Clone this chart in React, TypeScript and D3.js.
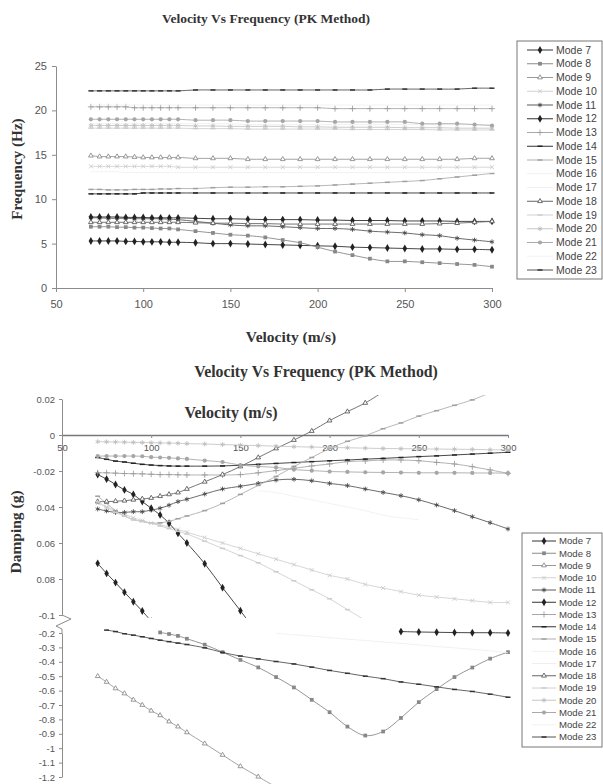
import React, { useRef, useEffect } from "react";
import * as d3 from "d3";

const n = null;

// velocity (m/s) at which each mode was solved
const velocity = [70, 75, 80, 85, 90, 95, 100, 105, 110, 115, 120, 130, 140, 150, 160, 170, 180, 190, 200, 210, 220, 230, 240, 250, 260, 270, 280, 290, 300];

const modeNames = ["Mode 7", "Mode 8", "Mode 9", "Mode 10", "Mode 11", "Mode 12", "Mode 13", "Mode 14", "Mode 15", "Mode 16", "Mode 17", "Mode 18", "Mode 19", "Mode 20", "Mode 21", "Mode 22", "Mode 23"];

const velocityTicks = [50, 100, 150, 200, 250, 300];
const freqTicks = [0, 5, 10, 15, 20, 25];
const dampUpperTicks = [0.02, 0, -0.02, -0.04, -0.06, -0.08, -0.1];
const dampUpperLabels = ["0.02", "0", "-0.02", "0.04", "0.06", "0.08", "-0.1"];
const dampLowerTicks = [-0.2, -0.3, -0.4, -0.5, -0.6, -0.7, -0.8, -0.9, -1, -1.1, -1.2];
const dampLowerLabels = ["-0.2", "-0.3", "-0.4", "-0.5", "-0.6", "-0.7", "-0.8", "-0.9", "-1", "-1.1", "-1.2"];

// frequency (Hz)
const freqMode7 = [5.3, 5.3, 5.3, 5.3, 5.25, 5.25, 5.2, 5.2, 5.2, 5.15, 5.15, 5.1, 5.0, 5.0, 4.95, 4.9, 4.85, 4.8, 4.75, 4.7, 4.6, 4.55, 4.5, 4.45, 4.4, 4.4, 4.35, 4.35, 4.3];
const freqMode8 = [6.9, 6.9, 6.9, 6.85, 6.85, 6.8, 6.8, 6.75, 6.7, 6.7, 6.6, 6.4, 6.2, 6.0, 5.9, 5.7, 5.4, 5.1, 4.6, 4.1, 3.7, 3.3, 3.0, 3.0, 2.9, 2.8, 2.7, 2.6, 2.4];
const freqMode9 = [14.9, 14.8, 14.8, 14.8, 14.8, 14.75, 14.7, 14.7, 14.7, 14.7, 14.7, 14.6, 14.6, 14.6, 14.5, 14.5, 14.5, 14.5, 14.5, 14.5, 14.5, 14.5, 14.5, 14.5, 14.5, 14.5, 14.5, 14.6, 14.6];
const freqMode10 = [13.7, 13.7, 13.7, 13.7, 13.7, 13.7, 13.7, 13.7, 13.7, 13.7, 13.6, 13.6, 13.6, 13.6, 13.6, 13.6, 13.6, 13.6, 13.6, 13.6, 13.6, 13.6, 13.6, 13.6, 13.6, 13.6, 13.6, 13.6, 13.6];
const freqMode11 = [7.9, 7.9, 7.85, 7.85, 7.85, 7.8, 7.8, 7.8, 7.8, 7.75, 7.7, 7.5, 7.3, 7.1, 7.0, 7.0, 6.9, 6.8, 6.7, 6.7, 6.6, 6.4, 6.3, 6.2, 6.0, 5.9, 5.6, 5.4, 5.2];
const freqMode12 = [8.0, 8.0, 8.0, 8.0, 7.95, 7.95, 7.95, 7.9, 7.9, 7.9, 7.9, 7.85, 7.8, 7.8, 7.75, 7.7, 7.7, 7.7, 7.65, 7.65, 7.6, 7.6, 7.6, 7.55, 7.55, 7.55, 7.5, 7.5, 7.5];
const freqMode13 = [20.4, 20.4, 20.4, 20.4, 20.4, 20.3, 20.3, 20.3, 20.3, 20.3, 20.3, 20.3, 20.3, 20.3, 20.3, 20.3, 20.3, 20.3, 20.3, 20.2, 20.2, 20.2, 20.2, 20.2, 20.2, 20.2, 20.2, 20.2, 20.2];
const freqMode14 = [10.6, 10.6, 10.6, 10.6, 10.6, 10.6, 10.7, 10.7, 10.7, 10.7, 10.7, 10.7, 10.7, 10.7, 10.7, 10.7, 10.7, 10.7, 10.7, 10.7, 10.7, 10.7, 10.7, 10.7, 10.7, 10.7, 10.7, 10.7, 10.7];
const freqMode15 = [11.1, 11.1, 11.05, 11.05, 11.05, 11.1, 11.1, 11.1, 11.15, 11.15, 11.2, 11.2, 11.3, 11.35, 11.35, 11.4, 11.4, 11.45, 11.5, 11.6, 11.7, 11.8, 11.9, 12.0, 12.1, 12.3, 12.5, 12.7, 12.9];
const freqMode16 = [13.1, 13.1, 13.1, 13.1, 13.0, 13.0, 13.0, 13.0, 13.0, 13.0, 13.0, 13.0, 13.0, 13.0, 13.0, 13.0, 13.0, 13.0, 13.0, 13.0, 13.0, 13.0, 13.0, 13.0, 13.0, 13.0, 13.0, 13.0, 13.0];
const freqMode17 = [18.5, 18.5, 18.5, 18.5, 18.5, 18.5, 18.5, 18.5, 18.5, 18.5, 18.5, 18.5, 18.5, 18.5, 18.4, 18.4, 18.4, 18.4, 18.4, 18.4, 18.4, 18.4, 18.4, 18.4, 18.4, 18.4, 18.4, 18.4, 18.4];
const freqMode18 = [7.4, 7.4, 7.4, 7.4, 7.4, 7.4, 7.4, 7.4, 7.4, 7.4, 7.4, 7.35, 7.3, 7.3, 7.25, 7.25, 7.2, 7.2, 7.2, 7.2, 7.2, 7.2, 7.2, 7.2, 7.2, 7.25, 7.3, 7.4, 7.5];
const freqMode19 = [18.0, 18.0, 18.0, 18.0, 18.0, 18.0, 18.0, 18.0, 18.0, 18.0, 18.0, 17.95, 17.95, 17.95, 17.9, 17.9, 17.9, 17.9, 17.9, 17.9, 17.85, 17.85, 17.85, 17.85, 17.85, 17.8, 17.8, 17.8, 17.8];
const freqMode20 = [18.3, 18.3, 18.3, 18.3, 18.3, 18.3, 18.3, 18.3, 18.3, 18.3, 18.3, 18.25, 18.25, 18.2, 18.2, 18.2, 18.2, 18.15, 18.15, 18.1, 18.1, 18.1, 18.1, 18.05, 18.05, 18.05, 18.0, 18.0, 18.0];
const freqMode21 = [19.0, 19.0, 19.0, 19.0, 19.0, 19.0, 19.0, 19.0, 19.0, 19.0, 19.0, 18.9, 18.9, 18.9, 18.8, 18.8, 18.8, 18.8, 18.8, 18.7, 18.7, 18.7, 18.7, 18.7, 18.5, 18.5, 18.5, 18.4, 18.3];
const freqMode22 = [20.6, 20.6, 20.6, 20.6, 20.6, 20.6, 20.6, 20.6, 20.6, 20.6, 20.6, 20.6, 20.6, 20.6, 20.6, 20.6, 20.6, 20.6, 20.6, 20.6, 20.6, 20.6, 20.6, 20.6, 20.6, 20.6, 20.6, 20.6, 20.6];
const freqMode23 = [22.2, 22.2, 22.2, 22.2, 22.2, 22.2, 22.2, 22.2, 22.2, 22.2, 22.2, 22.3, 22.3, 22.3, 22.3, 22.3, 22.3, 22.3, 22.3, 22.3, 22.3, 22.3, 22.4, 22.4, 22.4, 22.4, 22.4, 22.5, 22.5];

// damping (g), upper part of the broken axis (0.02 .. -0.1)
const dampUpMode7 = [-0.0713, -0.0769, -0.082, -0.0874, -0.0926, -0.0978, -0.1035, n, n, n, n, n, n, n, n, n, n, n, n, n, n, n, n, n, n, n, n, n, n];
const dampUpMode10 = [-0.038, -0.04, -0.042, -0.044, -0.046, -0.0475, -0.049, -0.05, -0.051, -0.0525, -0.054, -0.057, -0.06, -0.063, -0.066, -0.069, -0.072, -0.075, -0.078, -0.08, -0.083, -0.085, -0.087, -0.089, -0.09, -0.091, -0.092, -0.093, -0.093];
const dampUpMode11 = [-0.0411, -0.0422, -0.043, -0.043, -0.0426, -0.0426, -0.0417, -0.0407, -0.039, -0.037, -0.0357, -0.0328, -0.03, -0.0285, -0.0269, -0.025, -0.0246, -0.0254, -0.0269, -0.0281, -0.03, -0.0319, -0.0337, -0.036, -0.0389, -0.042, -0.0454, -0.0487, -0.0522];
const dampUpMode12 = [-0.022, -0.0245, -0.0275, -0.0305, -0.033, -0.037, -0.0407, -0.0444, -0.049, -0.0546, -0.06, -0.0715, -0.0848, -0.0976, -0.111, n, n, n, n, n, n, n, n, n, n, n, n, n, n];
const dampUpMode13 = [-0.021, -0.021, -0.0212, -0.0214, -0.0215, -0.0216, -0.0218, -0.022, -0.022, -0.0221, -0.0222, -0.0222, -0.0222, -0.022, -0.021, -0.0198, -0.0185, -0.0172, -0.0161, -0.0148, -0.0144, -0.0139, -0.0139, -0.0143, -0.0152, -0.0161, -0.0176, -0.0194, -0.0213];
const dampUpMode14 = [-0.0125, -0.0135, -0.0145, -0.015, -0.0157, -0.0163, -0.0167, -0.017, -0.0172, -0.0173, -0.0173, -0.0173, -0.0172, -0.0168, -0.0163, -0.0158, -0.0153, -0.0148, -0.0143, -0.0139, -0.0134, -0.013, -0.0125, -0.012, -0.0116, -0.0111, -0.0106, -0.0101, -0.0096];
const dampUpMode15 = [-0.034, -0.038, -0.042, -0.045, -0.047, -0.048, -0.049, -0.0488, -0.048, -0.0465, -0.045, -0.042, -0.038, -0.033, -0.028, -0.023, -0.0175, -0.0125, -0.0075, -0.0035, -0.0005, 0.0035, 0.0067, 0.0105, 0.0135, 0.0165, 0.0195, 0.0235, n];
const dampUpMode16 = [n, n, n, n, n, n, n, n, n, n, n, n, n, n, -0.031, -0.032, -0.034, -0.036, -0.038, -0.04, -0.042, -0.0445, -0.046, -0.047, n, n, n, n, n];
const dampUpMode18 = [-0.037, -0.037, -0.0368, -0.0365, -0.036, -0.0355, -0.035, -0.034, -0.033, -0.032, -0.03, -0.026, -0.022, -0.0175, -0.0125, -0.0075, -0.0028, 0.0022, 0.008, 0.013, 0.0178, 0.024, n, n, n, n, n, n, n];
const dampUpMode19 = [-0.037, -0.04, -0.043, -0.045, -0.047, -0.048, -0.049, -0.0505, -0.052, -0.0535, -0.055, -0.059, -0.063, -0.067, -0.071, -0.076, -0.081, -0.086, -0.091, -0.097, -0.103, n, n, n, n, n, n, n, n];
const dampUpMode20 = [-0.0037, -0.0038, -0.0039, -0.004, -0.0041, -0.0042, -0.0043, -0.0044, -0.0045, -0.0046, -0.0048, -0.005, -0.0053, -0.0056, -0.0059, -0.0062, -0.0065, -0.0067, -0.0069, -0.0071, -0.0073, -0.0075, -0.0076, -0.0077, -0.0078, -0.0079, -0.008, -0.0082, -0.0083];
const dampUpMode21 = [-0.0117, -0.0117, -0.0117, -0.0117, -0.0117, -0.0118, -0.0123, -0.0125, -0.0127, -0.013, -0.0133, -0.0142, -0.015, -0.0167, -0.0175, -0.018, -0.0192, -0.0198, -0.0203, -0.0205, -0.0207, -0.0208, -0.0209, -0.021, -0.021, -0.021, -0.0211, -0.0211, -0.0212];

// damping (g), lower part of the broken axis (-0.2 .. -1.2)
const dampLowMode8 = [n, n, n, n, n, n, n, -0.196, -0.207, -0.22, -0.24, -0.281, -0.333, -0.387, -0.439, -0.506, -0.578, -0.664, -0.75, -0.85, -0.912, -0.884, -0.79, -0.68, -0.59, -0.506, -0.44, -0.378, -0.333];
const dampLowMode9 = [-0.5, -0.54, -0.585, -0.62, -0.664, -0.7, -0.74, -0.772, -0.815, -0.85, -0.89, -0.968, -1.047, -1.126, -1.198, -1.27, n, n, n, n, n, n, n, n, n, n, n, n, n];
const dampLowMode12 = [n, n, n, n, n, n, n, n, n, n, n, n, n, n, n, n, n, n, n, n, n, n, -0.19, -0.193, -0.195, -0.197, -0.198, -0.198, -0.2];
const dampLowMode17 = [n, n, n, n, n, n, n, n, n, n, n, n, n, n, n, -0.202, -0.212, -0.221, -0.232, -0.243, -0.252, -0.263, -0.272, -0.283, -0.294, -0.303, -0.313, -0.324, -0.337];
const dampLowMode23 = [n, -0.18, -0.19, -0.205, -0.215, -0.226, -0.238, -0.25, -0.26, -0.27, -0.28, -0.303, -0.335, -0.36, -0.38, -0.398, -0.415, -0.437, -0.46, -0.48, -0.5, -0.517, -0.54, -0.556, -0.574, -0.592, -0.606, -0.625, -0.646];

const empty = velocity.map(() => n);

const freqSeries = [freqMode7, freqMode8, freqMode9, freqMode10, freqMode11, freqMode12, freqMode13, freqMode14, freqMode15, freqMode16, freqMode17, freqMode18, freqMode19, freqMode20, freqMode21, freqMode22, freqMode23];
const dampUpperSeries = [dampUpMode7, empty, empty, dampUpMode10, dampUpMode11, dampUpMode12, dampUpMode13, dampUpMode14, dampUpMode15, dampUpMode16, empty, dampUpMode18, dampUpMode19, dampUpMode20, dampUpMode21, empty, empty];
const dampLowerSeries = [empty, dampLowMode8, dampLowMode9, empty, empty, dampLowMode12, empty, empty, empty, empty, dampLowMode17, empty, empty, empty, empty, empty, dampLowMode23];

// look of each mode, same order as modeNames
const modeStyles = [
  { line: "#333", marker: "diamond", mc: "#222" },
  { line: "#8a8a8a", marker: "square", mc: "#888" },
  { line: "#9a9a9a", marker: "triangle", mc: "#888" },
  { line: "#d2d2d2", marker: "times", mc: "#c8c8c8" },
  { line: "#5a5a5a", marker: "asterisk", mc: "#444" },
  { line: "#333", marker: "diamond", mc: "#222" },
  { line: "#aaa", marker: "plus", mc: "#999" },
  { line: "#333", marker: "dash", mc: "#222" },
  { line: "#b0b0b0", marker: "dash", mc: "#a0a0a0" },
  { line: "#f0f0f0", marker: "none", mc: "#f0f0f0" },
  { line: "#efefef", marker: "none", mc: "#efefef" },
  { line: "#666", marker: "triangle", mc: "#555" },
  { line: "#d0d0d0", marker: "dash", mc: "#ccc" },
  { line: "#c6c6c6", marker: "asterisk", mc: "#bbb" },
  { line: "#aaa", marker: "circle", mc: "#a6a6a6" },
  { line: "#f2f2f2", marker: "none", mc: "#f2f2f2" },
  { line: "#555", marker: "dash", mc: "#333" },
];

const symbols: any = {
  diamond: [d3.symbolDiamond, 18],
  square: [d3.symbolSquare, 14],
  triangle: [d3.symbolTriangle2, 16],
  asterisk: [d3.symbolAsterisk, 16],
  plus: [d3.symbolPlus, 14],
  times: [d3.symbolTimes, 12],
  circle: [d3.symbolCircle, 14],
};

function addMarker(g, type, cx, cy, color) {
  if (type === "none") return;
  if (type === "dash") {
    g.append("line").attr("x1", cx - 2.5).attr("x2", cx + 2.5).attr("y1", cy).attr("y2", cy)
      .attr("stroke", color).attr("stroke-width", 1.5);
    return;
  }
  const [sym, size] = symbols[type];
  const filled = type === "diamond" || type === "square" || type === "circle";
  g.append("path")
    .attr("d", d3.symbol(sym, size)())
    .attr("transform", `translate(${cx},${cy})`)
    .attr("fill", filled ? color : type === "triangle" ? "#fff" : "none")
    .attr("stroke", filled ? "none" : color)
    .attr("stroke-width", 0.85);
}

function drawSeries(g, series, x, y) {
  series.forEach((vals, i) => {
    const st = modeStyles[i];
    const pts = velocity.map((v, j) => [v, vals[j]]);
    const line = d3.line<any>()
      .defined((d) => d[1] != null)
      .x((d) => x(d[0]))
      .y((d) => y(d[1]))
      .curve(d3.curveCatmullRom);
    g.append("path").attr("d", line(pts)).attr("fill", "none")
      .attr("stroke", st.line).attr("stroke-width", 0.9);
    pts.filter((d) => d[1] != null).forEach((d) => addMarker(g, st.marker, x(d[0]), y(d[1]), st.mc));
  });
}

function styleAxis(g, size) {
  g.selectAll("path, line").attr("stroke", "#8c8c8c");
  g.selectAll("text").attr("fill", "#555").style("font-family", "'Liberation Sans', Arial, sans-serif").style("font-size", size + "px");
}

function drawLegend(svg, box, rowY0, step, lx0, lx1, tx, fs) {
  const g = svg.append("g");
  g.append("rect").attr("x", box[0]).attr("y", box[1]).attr("width", box[2]).attr("height", box[3])
    .attr("fill", "#fff").attr("stroke", "#777").attr("stroke-width", 1);
  modeNames.forEach((name, i) => {
    const st = modeStyles[i];
    const yy = rowY0 + i * step;
    g.append("line").attr("x1", lx0).attr("x2", lx1).attr("y1", yy).attr("y2", yy)
      .attr("stroke", st.line).attr("stroke-width", 1);
    addMarker(g, st.marker, (lx0 + lx1) / 2, yy, st.mc);
    g.append("text").attr("x", tx).attr("y", yy).attr("dy", "0.35em")
      .attr("fill", "#444").style("font-family", "'Liberation Sans', Arial, sans-serif")
      .style("font-size", fs + "px").text(name);
  });
}

function serifText(svg, x, y, str, size, rotate = false) {
  const t = svg.append("text").attr("text-anchor", "middle").attr("fill", "#333")
    .style("font-family", "'Liberation Serif', 'Times New Roman', serif")
    .style("font-weight", "bold").style("font-size", size + "px").text(str);
  if (rotate) t.attr("transform", `translate(${x},${y}) rotate(-90)`);
  else t.attr("x", x).attr("y", y);
}

export default function App() {
  const ref = useRef<SVGSVGElement>(null);

  useEffect(() => {
    const svg = d3.select(ref.current);
    svg.selectAll("*").remove();

    // ---- top: frequency ----
    const xTop = d3.scaleLinear().domain([50, 300]).range([56, 492]);
    const yTop = d3.scaleLinear().domain([0, 25]).range([288, 66]);

    serifText(svg, 266, 23, "Velocity Vs Frequency (PK Method)", 13.5);
    serifText(svg, 291, 342, "Velocity (m/s)", 15.5);
    serifText(svg, 22, 169, "Frequency (Hz)", 15.2, true);

    const gxTop = svg.append("g").attr("transform", "translate(0,288)")
      .call(d3.axisBottom(xTop).tickValues(velocityTicks).tickSize(4).tickPadding(8).tickSizeOuter(0));
    styleAxis(gxTop, 11);
    const gyTop = svg.append("g").attr("transform", "translate(56,0)")
      .call(d3.axisLeft(yTop).tickValues(freqTicks).tickSize(4).tickPadding(5).tickSizeOuter(0));
    styleAxis(gyTop, 11);

    drawSeries(svg.append("g"), freqSeries, xTop, yTop);
    drawLegend(svg, [517, 41, 85, 238], 50, 13.75, 527, 553, 556, 10.5);

    // ---- bottom: damping, broken y axis ----
    const xBot = d3.scaleLinear().domain([50, 300]).range([62, 508]);
    const yUp = d3.scaleLinear().domain([0.02, -0.1]).range([399, 615]);
    const yLow = d3.scaleLinear().domain([-0.2, -1.2]).range([633, 777]);

    serifText(svg, 316, 377, "Velocity Vs Frequency (PK Method)", 15.8);
    serifText(svg, 231, 418, "Velocity (m/s)", 16);
    serifText(svg, 21, 532, "Damping (g)", 15.5, true);

    const defs = svg.append("defs");
    defs.append("clipPath").attr("id", "clipUp").append("rect").attr("x", 62).attr("y", 395).attr("width", 460).attr("height", 223);
    defs.append("clipPath").attr("id", "clipLow").append("rect").attr("x", 62).attr("y", 628).attr("width", 460).attr("height", 160);

    const gyUp = svg.append("g").attr("transform", "translate(62,0)")
      .call(d3.axisLeft(yUp).tickValues(dampUpperTicks).tickFormat((d, i) => dampUpperLabels[i]).tickSize(3).tickPadding(4).tickSizeOuter(0));
    styleAxis(gyUp, 9.5);
    const gyLow = svg.append("g").attr("transform", "translate(62,0)")
      .call(d3.axisLeft(yLow).tickValues(dampLowerTicks).tickFormat((d, i) => dampLowerLabels[i]).tickSize(3).tickPadding(4).tickSizeOuter(0));
    styleAxis(gyLow, 9.5);

    // axis break
    svg.append("path").attr("d", `M62,${yUp(-0.1)} L71,619 L56,626 L62,629 L62,${yLow(-0.2)}`)
      .attr("fill", "none").attr("stroke", "#8c8c8c").attr("stroke-width", 1);

    const gxBot = svg.append("g").attr("transform", `translate(0,${yUp(0)})`)
      .call(d3.axisBottom(xBot).tickValues(velocityTicks).tickSize(3).tickPadding(6).tickSizeOuter(0));
    styleAxis(gxBot, 9.5);
    gxBot.select(".domain").attr("stroke", "#777").attr("stroke-width", 1.3);

    drawSeries(svg.append("g").attr("clip-path", "url(#clipUp)"), dampUpperSeries, xBot, yUp);
    drawSeries(svg.append("g").attr("clip-path", "url(#clipLow)"), dampLowerSeries, xBot, yLow);

    drawLegend(svg, [522, 533, 80, 214], 541, 12.25, 532, 556, 559, 9.6);
  }, []);

  return (
    <svg ref={ref} width={603} height={784}
      style={{ position: "absolute", left: 0, top: 0, background: "#fff" }} />
  );
}
